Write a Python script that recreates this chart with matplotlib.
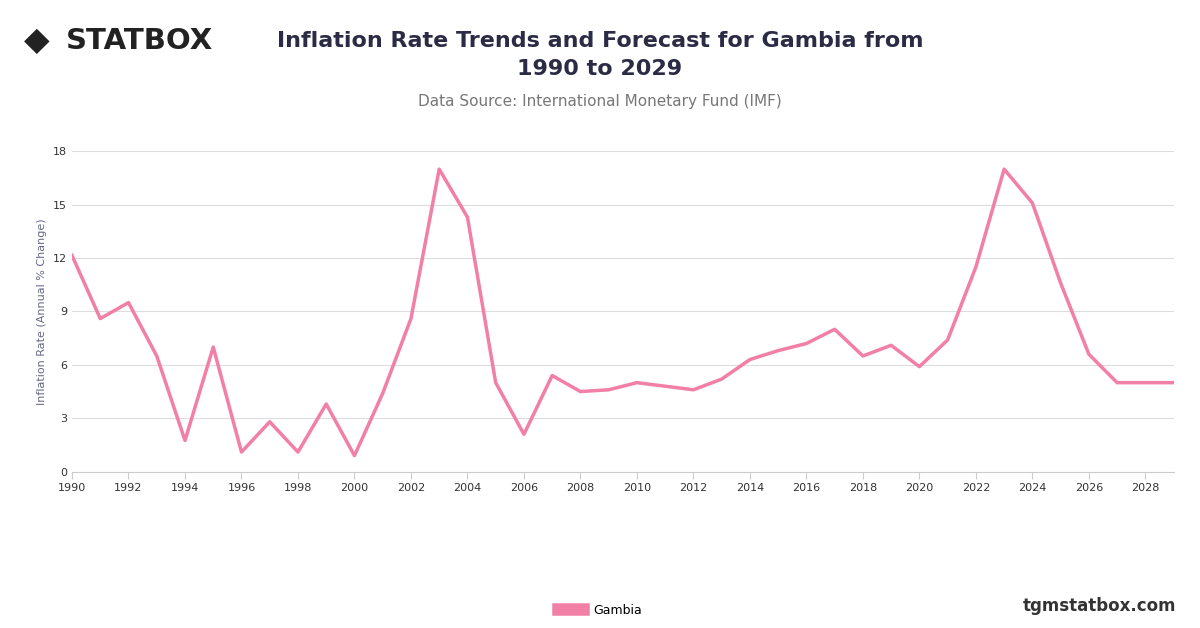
import matplotlib.pyplot as plt
import numpy as np

years = np.arange(1990, 2030)
inflation = [12.15, 8.6, 9.5, 6.5, 1.75, 7.0, 1.1, 2.8, 1.1, 3.8,
             0.9, 4.4, 8.6, 17.0, 14.3, 5.0, 2.1, 5.4, 4.5, 4.6,
             5.0, 4.8, 4.6, 5.2, 6.3, 6.8, 7.2, 8.0, 6.5, 7.1,
             5.9, 7.4, 11.5, 17.0, 15.1, 10.6, 6.6, 5.0, 5.0, 5.0]
yticks = [0, 3, 6, 9, 12, 15, 18]
xticks = np.arange(1990, 2029, 2)

fig = plt.figure(figsize=(12, 6.28), dpi=100)
ax = fig.add_axes([0.06, 0.249, 0.918, 0.51])
ax.plot(years, inflation, color='#f27fa5', linewidth=2.5, label='Gambia')
ax.set_xlim(1990, 2029)
ax.set_ylim(0, 18)
ax.set_yticks(yticks)
ax.set_xticks(xticks)
ax.tick_params(labelsize=8, colors='#333333', length=0)
ax.tick_params(axis='x', length=5, color='#cccccc')
ax.grid(axis='y', color='#dddddd', linewidth=0.8)
for s in ['top', 'right', 'left']:
    ax.spines[s].set_visible(False)
ax.spines['bottom'].set_color('#cccccc')
ax.set_ylabel('Inflation Rate (Annual % Change)', fontsize=8, color='#666688')

fig.text(0.5, 0.912, 'Inflation Rate Trends and Forecast for Gambia from\n1990 to 2029',
         ha='center', va='center', fontsize=16, fontweight='bold', color='#2b2b45',
         linespacing=1.5)
fig.text(0.5, 0.838, 'Data Source: International Monetary Fund (IMF)',
         ha='center', va='center', fontsize=11, color='#777777')
fig.text(0.055, 0.935, 'STATBOX', ha='left', va='center', fontsize=21,
         fontweight='bold', color='#222222')
fig.text(0.02, 0.935, '◆', ha='left', va='center', fontsize=24, color='#222222')
fig.text(0.98, 0.035, 'tgmstatbox.com', ha='right', va='center', fontsize=12,
         fontweight='bold', color='#333333')
fig.legend(loc='center', bbox_to_anchor=(0.5, 0.028), frameon=False, fontsize=9,
           handlelength=2, handleheight=1.0)
leg = fig.legends[0]
for h in leg.legend_handles:
    h.set_linewidth(9)
fig.savefig('out.png')
